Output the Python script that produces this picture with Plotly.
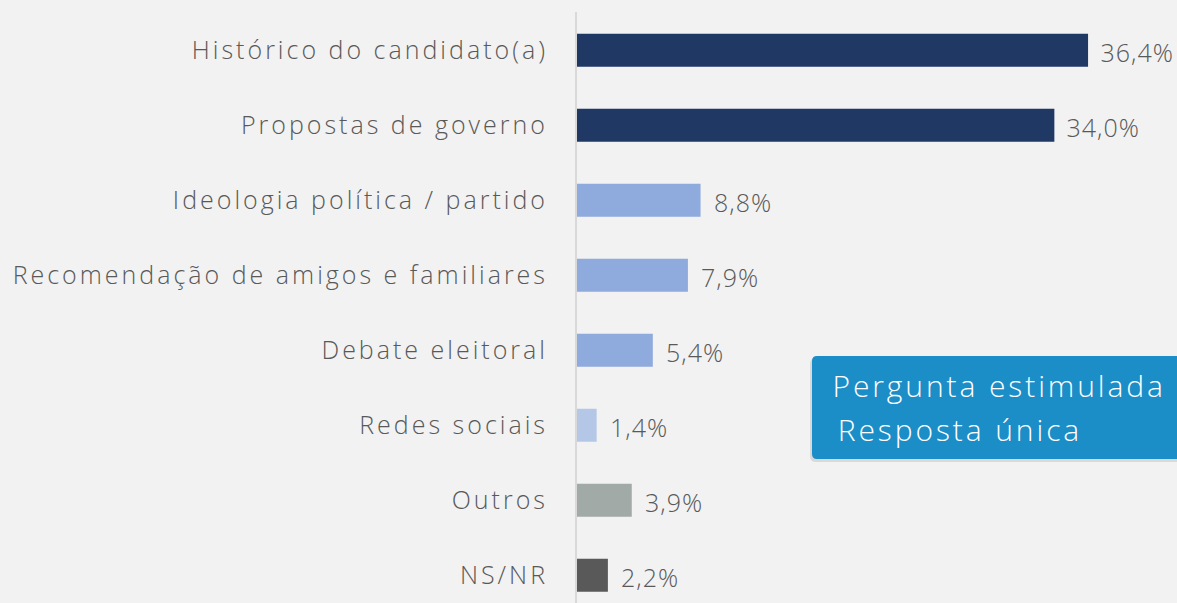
import plotly.graph_objects as go

categories = [
    "Histórico do candidato(a)",
    "Propostas de governo",
    "Ideologia política / partido",
    "Recomendação de amigos e familiares",
    "Debate eleitoral",
    "Redes sociais",
    "Outros",
    "NS/NR",
]
values = [36.4, 34.0, 8.8, 7.9, 5.4, 1.4, 3.9, 2.2]
labels = ["36,4%", "34,0%", "8,8%", "7,9%", "5,4%", "1,4%", "3,9%", "2,2%"]
colors = ["#203864", "#203864", "#8faadc", "#8faadc", "#8faadc", "#b4c7e7", "#a2aaa7", "#595959"]

W, H = 1177, 603
L, R, T, B = 577, 0, 12, 0
pw, ph = W - L - R, H - T - B

FONT = "Open Sans"

fig = go.Figure()
fig.add_trace(go.Bar(
    y=categories, x=values, orientation="h",
    marker=dict(color=colors, line=dict(width=0)),
    width=0.44, hoverinfo="skip",
))

for c, v, t in zip(categories, values, labels):
    fig.add_annotation(x=v, y=c, text=t, showarrow=False, xanchor="left",
                       xshift=13, yshift=-2,
                       font=dict(family=FONT, size=25, color="#595959", weight=300))

def px_x(p):
    return (p - L) / pw

def px_y(p):
    return (H - B - p) / ph

def rrect(x0, y0, x1, y1, r):
    X0, X1 = px_x(x0), px_x(x1)
    Y0, Y1 = px_y(y0), px_y(y1)
    rx, ry = r / pw, r / ph
    return (f"M {X0+rx} {Y0} L {X1-rx} {Y0} Q {X1} {Y0} {X1} {Y0-ry} "
            f"L {X1} {Y1+ry} Q {X1} {Y1} {X1-rx} {Y1} L {X0+rx} {Y1} "
            f"Q {X0} {Y1} {X0} {Y1+ry} L {X0} {Y0-ry} Q {X0} {Y0} {X0+rx} {Y0} Z")

# shadow
fig.add_shape(type="path", xref="paper", yref="paper",
              path=rrect(810, 358, 1185, 462, 6),
              fillcolor="rgba(0,0,0,0.10)", line=dict(width=0), layer="above")
fig.add_shape(type="path", xref="paper", yref="paper",
              path=rrect(812, 356, 1185, 459, 5),
              fillcolor="#1b8dc7", line=dict(width=0), layer="above")

fig.add_annotation(xref="paper", yref="paper", x=px_x(858), y=px_y(385),
                   text="Pergunta estimulada", showarrow=False,
                   xanchor="left", yanchor="middle",
                   font=dict(family=FONT, size=30, color="white", weight=300))
fig.add_annotation(xref="paper", yref="paper", x=px_x(856), y=px_y(429),
                   text="Resposta única", showarrow=False,
                   xanchor="left", yanchor="middle",
                   font=dict(family=FONT, size=30, color="white", weight=300))

fig.update_layout(
    width=W, height=H,
    margin=dict(l=L, r=R, t=T, b=B, pad=0),
    paper_bgcolor="#f2f2f2", plot_bgcolor="#f2f2f2",
    showlegend=False,
    bargap=0.56,
    xaxis=dict(range=[0, pw / 14.04], visible=False, fixedrange=True),
    yaxis=dict(range=[7.37, -0.51], showline=True, linecolor="#d9d9d9", linewidth=2,
               showgrid=False, zeroline=False, ticks="", ticklabelstandoff=22,
               tickfont=dict(family=FONT, size=25, color="#595959", weight=300),
               fixedrange=True),
)

post = """
document.body.style.margin='0';
document.body.style.background='#f2f2f2';
document.querySelectorAll('.ytick text').forEach(function(t){t.style.letterSpacing='3px';});
document.querySelectorAll('.annotation-text').forEach(function(t){
  var fs = parseFloat(t.style.fontSize);
  t.style.letterSpacing = (fs > 27 ? '2.9px' : '1px');
});
"""

fig.write_html("out.html", post_script=post, config={"displayModeBar": False})
